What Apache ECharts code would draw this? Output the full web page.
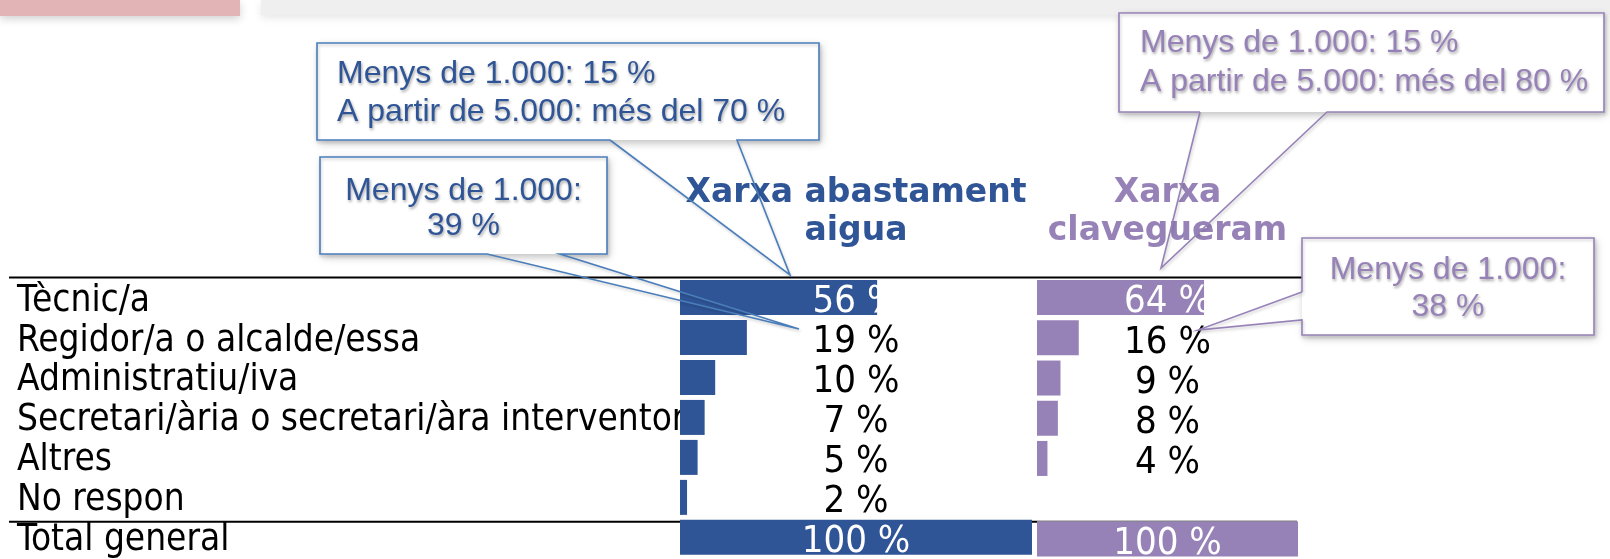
<!DOCTYPE html>
<html><head><meta charset="utf-8">
<script src="https://cdn.jsdelivr.net/npm/echarts@6/dist/echarts.min.js"></script>
<style>html,body{margin:0;padding:0;background:#fff;overflow:hidden}#c{width:1610px;height:559px}</style>
</head><body><div id="c"></div>
<script>
// ---- data ----
const categories = ['Tècnic/a','Regidor/a o alcalde/essa','Administratiu/iva','Secretari/ària o secretari/àra interventor/a','Altres','No respon','Total general'];
const aiguaValues = [56, 19, 10, 7, 5, 2, 100];
const clavegueramValues = [64, 16, 9, 8, 4, null, 100];
const columnTitles = ['Xarxa abastament\naigua', 'Xarxa\nclavegueram'];
const aiguaNotes = [['Menys de 1.000: 15 %', 'A partir de 5.000: més del 70 %'], ['Menys de 1.000:', '39 %']];
const clavNotes = [['Menys de 1.000: 15 %', 'A partir de 5.000: més del 80 %'], ['Menys de 1.000:', '38 %']];
const valueMin = 0, valueMax = 100;

// ---- layout / style ----
const BLUE = '#2F5597', PURPLE = '#9782B8', BLUE_LINE = '#4A7EBB';
const ROW_FONT = "'DejaVu Sans Condensed', 'DejaVu Sans', sans-serif";
const NOTE_FONT = "'Liberation Sans', Arial, sans-serif";
const GRID_TOP = 277.5, ROW_H = 40.7, N = categories.length;
const COLS = [{left: 680, width: 352}, {left: 1037, width: 261}];
const whiteRows = [0, categories.length - 1];

const chart = echarts.init(document.getElementById('c'), null, {renderer: 'canvas'});

function labelData(values) {
  const mid = (valueMin + valueMax) / 2;
  return values.map((v, i) => v == null ? null : (whiteRows.includes(i)
    ? {value: [mid, categories[i], v], label: {color: '#ffffff'}}
    : {value: [mid, categories[i], v]}));
}

const grids = COLS.map(c => ({left: c.left, width: c.width, top: GRID_TOP, height: ROW_H * N}));
const xAxes = COLS.map((c, i) => ({type: 'value', gridIndex: i, min: valueMin, max: valueMax, show: false}));
const yAxes = COLS.map((c, i) => ({
  type: 'category', gridIndex: i, data: categories, inverse: true,
  axisLine: {show: false}, axisTick: {show: false}, splitLine: {show: false},
  axisLabel: i === 0 ? {show: true, interval: 0, align: 'left', margin: COLS[0].left - 17,
    fontSize: 36.7, fontFamily: ROW_FONT, color: '#000000', verticalAlign: 'top', lineHeight: 7} : {show: false}
}));

function barSeries(values, idx, color) {
  return {
    type: 'bar', xAxisIndex: idx, yAxisIndex: idx, data: values, barWidth: 35,
    itemStyle: {color: color}, showBackground: true, backgroundStyle: {color: '#fff', opacity: 1},
    z: 2, silent: true
  };
}
function labelSeries(values, idx) {
  return {
    type: 'scatter', xAxisIndex: idx, yAxisIndex: idx, data: labelData(values), symbolSize: 0, z: 4, silent: true,
    itemStyle: {color: 'rgba(0,0,0,0)'},
    label: {show: true, position: [0, 5], align: 'center', verticalAlign: 'middle',
      fontSize: 38, fontFamily: ROW_FONT, color: '#000000', opacity: 1,
      textBorderWidth: 0, textShadowBlur: 0,
      formatter: p => p.value[2] + ' %'}
  };
}

function callout(box, base, tip, color, lineColor, lines, textX, align, ys) {
  const [l, t, r, b] = box;
  let pts;
  if (base.side === 'bottom') {
    pts = [[base.a, b], [l, b], [l, t], [r, t], [r, b], [base.b, b], tip, [base.a, b]];
  } else {
    pts = [[l, base.a], [l, t], [r, t], [r, b], [l, b], [l, base.b], tip, [l, base.a]];
  }
  const els = [
    {type: 'rect', z: 50, shape: {x: l, y: t, width: r - l, height: b - t},
      style: {fill: '#fff', shadowBlur: 8, shadowColor: 'rgba(0,0,0,0.25)', shadowOffsetX: 2, shadowOffsetY: 3}},
    {type: 'polyline', z: 60, shape: {points: pts},
      style: {stroke: lineColor, lineWidth: 1.6, fill: null, shadowBlur: 3, shadowColor: 'rgba(0,0,0,0.2)', shadowOffsetX: 1, shadowOffsetY: 2}}
  ];
  lines.forEach((txt, i) => els.push({
    type: 'text', z: 61, x: textX, y: ys[i],
    style: {text: txt, fill: color, font: '32px ' + NOTE_FONT, align: align, verticalAlign: 'middle',
      textShadowColor: 'rgba(0,0,0,0.35)', textShadowBlur: 3, textShadowOffsetX: 1, textShadowOffsetY: 2}
  }));
  return els;
}

const colCenter = i => COLS[i].left + COLS[i].width / 2;

const graphics = [
  {type: 'rect', z: 1, shape: {x: 0, y: 0, width: 240, height: 16},
    style: {fill: '#E2B4B5', shadowBlur: 8, shadowColor: 'rgba(0,0,0,0.18)', shadowOffsetY: 3}},
  {type: 'rect', z: 1, shape: {x: 261, y: 0, width: 1349, height: 15},
    style: {fill: '#EFEFEF', shadowBlur: 8, shadowColor: 'rgba(0,0,0,0.10)', shadowOffsetY: 3}},
  {type: 'line', z: 1, shape: {x1: 9, y1: GRID_TOP, x2: 1302, y2: GRID_TOP}, style: {stroke: '#000', lineWidth: 2}},
  {type: 'line', z: 1, shape: {x1: 9, y1: GRID_TOP + ROW_H * (N - 1), x2: 1297, y2: GRID_TOP + ROW_H * (N - 1)}, style: {stroke: '#000', lineWidth: 2}},
  {type: 'text', z: 55, x: colCenter(0), y: 212,
    style: {text: columnTitles[0], fill: BLUE, font: "bold 33px 'DejaVu Sans', sans-serif", align: 'center', verticalAlign: 'middle', lineHeight: 38}},
  {type: 'text', z: 55, x: colCenter(1), y: 212,
    style: {text: columnTitles[1], fill: PURPLE, font: "bold 33px 'DejaVu Sans', sans-serif", align: 'center', verticalAlign: 'middle', lineHeight: 38}}
]
.concat(callout([317, 43, 819, 140], {side: 'bottom', a: 610, b: 737}, [790, 275], BLUE, BLUE_LINE, aiguaNotes[0], 337, 'left', [74, 112]))
.concat(callout([320, 157, 607, 254], {side: 'bottom', a: 487, b: 560}, [799, 329], BLUE, BLUE_LINE, aiguaNotes[1], 463.5, 'center', [191, 226]))
.concat(callout([1119, 13, 1604, 112], {side: 'bottom', a: 1200, b: 1327}, [1161, 268], PURPLE, PURPLE, clavNotes[0], 1140, 'left', [43, 82]))
.concat(callout([1302, 238, 1594, 335], {side: 'left', a: 292, b: 320}, [1198, 330], PURPLE, PURPLE, clavNotes[1], 1448, 'center', [270, 307]));

chart.setOption({
  animation: false,
  backgroundColor: '#fff',
  grid: grids,
  xAxis: xAxes,
  yAxis: yAxes,
  series: [
    barSeries(aiguaValues, 0, BLUE),
    barSeries(clavegueramValues, 1, PURPLE),
    labelSeries(aiguaValues, 0),
    labelSeries(clavegueramValues, 1)
  ],
  graphic: {elements: graphics}
});
</script>
</body></html>
